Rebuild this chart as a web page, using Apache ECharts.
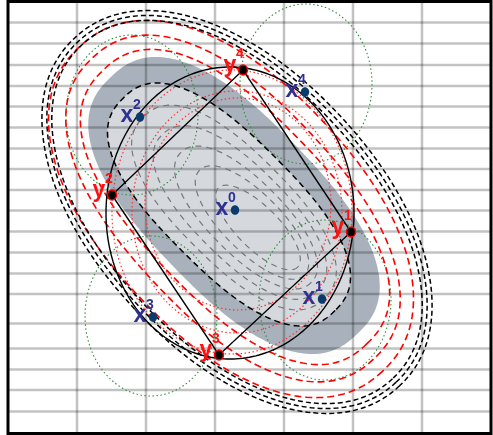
<!DOCTYPE html>
<html><head><meta charset="utf-8">
<script src="https://cdn.jsdelivr.net/npm/echarts@6/dist/echarts.min.js"></script>
<style>html,body{margin:0;padding:0;background:#fff}#c{width:493px;height:435px}</style>
</head><body><div id="c"></div>
<script>
// grid line positions (data units)
const gridXLines = [69,138,207,276,345,414];
const gridYLines = [21,42,63.5,84.5,105,126,147,167.5,188.5,209,230,251,272,292.5,322,347,368,388.5,410];
// points
const xNames = ['0','1','2','3','4'];
const xPoints = [[227,208.5],[314,297.5],[132,115.5],[145,315.5],[297,90.5]];
const yNames = ['1','2','3','4'];
const yPoints = [[343,230.5],[104,193.5],[211,353.5],[235,68.5]];
const hullOrder = [1,3,0,2]; // y2 -> y4 -> y1 -> y3
// contours: [cx, cy, semiA, semiB, angleDeg, exponent]
const darkRegion = [[226,204,178,86,46,2.5]];
const lightRegion = [[221,203,150,66,45,2.5]];
const innerLevels = [[226,206,128,55,45,2.4],[232,211,110,46,45,2.3],[238,216,92,37,45,2.2],[244,221,74,29,45,2.1],[250,226,56,21,45,2]];
const redLevels = [[223,207.5,222,127,47,2.2],[225,207,206,108,47,2.3],[227,205.5,190,93,46,2.4]];
const blackLevels = [[229,210.5,238,141,47,2.1],[229,210.5,233,136,47,2.1],[229,210.5,228,131,47,2.1]];
const redDotted = [[224,210.5,120,142,0,2],[229,210.5,105,121,0,2],[230,202.5,93,106,0,2]];
const greenCircles = [[317,298.5,66,80,0,2],[124,113.5,66,80,0,2],[143,314.5,66,80,0,2],[298,82.5,66,80,0,2]];
const enclosing = [[222,211.5,124,146,0,2]];

function outline(e, n) {
  n = n || 240;
  const [cx, cy, a, b, deg, pw] = e;
  const q = 2 / (pw || 2);
  const th = deg * Math.PI / 180, c = Math.cos(th), s = Math.sin(th);
  const pts = [];
  for (let i = 0; i < n; i++) {
    const t = 2 * Math.PI * i / n, ct = Math.cos(t), st = Math.sin(t);
    const u = a * Math.sign(ct) * Math.pow(Math.abs(ct), q);
    const v = b * Math.sign(st) * Math.pow(Math.abs(st), q);
    pts.push([cx + u * c - v * s, cy + u * s + v * c]);
  }
  return pts;
}
function ellipseSeries(list, style, z) {
  return {
    type: 'custom', z: z, silent: true,
    data: list.map(e => [e[0], e[1]]),
    renderItem: (p, api) => ({
      type: 'polygon',
      shape: { points: outline(list[p.dataIndex]).map(q => api.coord(q)) },
      style: Object.assign({}, style)
    })
  };
}
const gridStyle = { stroke: 'rgba(0,0,0,0.24)', lineWidth: 2.5 };
const series = [
  ellipseSeries(darkRegion, { fill: '#a9b2bc', stroke: 'none' }, 1),
  ellipseSeries(lightRegion, { fill: '#d5d9de', stroke: 'none' }, 1),
  {
    type: 'custom', z: 2, silent: true,
    data: gridXLines.map(v => [v, 0]),
    renderItem: (p, api) => {
      const v = gridXLines[p.dataIndex];
      const a = api.coord([v, 0]), b = api.coord([v, 432]);
      return { type: 'line', shape: { x1: a[0], y1: a[1], x2: b[0], y2: b[1] }, style: gridStyle };
    }
  },
  {
    type: 'custom', z: 2, silent: true,
    data: gridYLines.map(v => [0, v]),
    renderItem: (p, api) => {
      const v = gridYLines[p.dataIndex];
      const a = api.coord([0, v]), b = api.coord([483, v]);
      return { type: 'line', shape: { x1: a[0], y1: a[1], x2: b[0], y2: b[1] }, style: gridStyle };
    }
  },
  ellipseSeries(innerLevels, { fill: 'none', stroke: '#777', lineWidth: 1.2, lineDash: [6, 5] }, 3),
  ellipseSeries(greenCircles, { fill: 'none', stroke: '#2e8b3a', lineWidth: 1.1, lineDash: [1.5, 2.5] }, 3),
  ellipseSeries(redDotted, { fill: 'none', stroke: '#ff3030', lineWidth: 1.2, lineDash: [1.5, 2.5] }, 3),
  ellipseSeries(redLevels, { fill: 'none', stroke: '#ff0000', lineWidth: 1.6, lineDash: [7, 4] }, 3),
  ellipseSeries(blackLevels, { fill: 'none', stroke: '#000', lineWidth: 1.5, lineDash: [5, 3] }, 3),
  ellipseSeries(lightRegion, { fill: 'none', stroke: '#000', lineWidth: 1.5, lineDash: [6, 4] }, 3),
  ellipseSeries(enclosing, { fill: 'none', stroke: '#000', lineWidth: 1.4 }, 4),
  {
    type: 'custom', z: 4, silent: true,
    data: [yPoints[0]],
    renderItem: (p, api) => ({
      type: 'polygon',
      shape: { points: hullOrder.map(i => api.coord(yPoints[i])) },
      style: { fill: 'none', stroke: '#000', lineWidth: 1.4 }
    })
  },
  {
    type: 'custom', z: 5, silent: true,
    data: xPoints,
    renderItem: (p, api) => {
      const c = api.coord(xPoints[p.dataIndex]);
      return { type: 'group', children: [
        { type: 'ellipse', shape: { cx: c[0], cy: c[1], rx: 4.2, ry: 4.8 }, style: { fill: '#0b3b6c' } },
        { type: 'text', x: c[0] - 13, y: c[1] - 1, style: { text: 'x', fill: '#2e3192', font: 'bold 23px "Liberation Sans"', align: 'center', verticalAlign: 'middle' } },
        { type: 'text', x: c[0] - 3, y: c[1] - 12, style: { text: xNames[p.dataIndex], fill: '#2e3192', font: 'bold 14px "Liberation Sans"', align: 'center', verticalAlign: 'middle' } }
      ] };
    }
  },
  {
    type: 'custom', z: 5, silent: true,
    data: yPoints,
    renderItem: (p, api) => {
      const c = api.coord(yPoints[p.dataIndex]);
      return { type: 'group', children: [
        { type: 'text', x: c[0] - 13, y: c[1] - 4, style: { text: 'y', fill: '#ff1010', font: 'bold 23px "Liberation Sans"', align: 'center', verticalAlign: 'middle' } },
        { type: 'text', x: c[0] - 3, y: c[1] - 16, style: { text: yNames[p.dataIndex], fill: '#ff1010', font: 'bold 14px "Liberation Sans"', align: 'center', verticalAlign: 'middle' } },
        { type: 'ellipse', shape: { cx: c[0], cy: c[1], rx: 4.5, ry: 5 }, style: { fill: '#000', stroke: '#ff0000', lineWidth: 1.5 } }
      ] };
    }
  }
];
const chart = echarts.init(document.getElementById('c'), null, { renderer: 'canvas' });
chart.setOption({
  animation: false,
  backgroundColor: '#fff',
  grid: { left: 8, top: 1.5, width: 483, height: 432, show: true, borderColor: '#000', borderWidth: 3 },
  xAxis: { type: 'value', min: 0, max: 483, show: false },
  yAxis: { type: 'value', min: 0, max: 432, inverse: true, show: false },
  series: series
});
</script></body></html>
